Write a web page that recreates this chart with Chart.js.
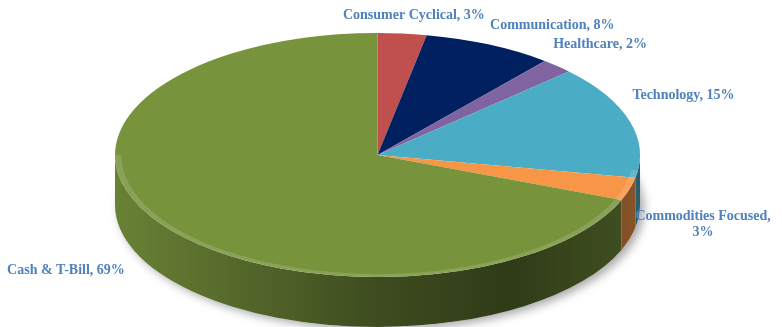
<!DOCTYPE html>
<html>
<head>
<meta charset="utf-8">
<script src="https://cdn.jsdelivr.net/npm/chart.js@4.4.0/dist/chart.umd.min.js"></script>
<style>
  html, body { margin: 0; padding: 0; background: #fff; }
  canvas { display: block; }
</style>
</head>
<body>
<canvas id="myChart" width="782" height="327"></canvas>
<script>
const categories = ['Consumer Cyclical', 'Communication', 'Healthcare', 'Technology', 'Commodities Focused', 'Cash & T-Bill'];
const weights = [3, 8, 2, 15, 3, 69];
const sliceColors = ['#c0504d', '#002060', '#8064a2', '#4bacc6', '#f79646', '#77933c'];

// where the tilted disc sits on the page
const pieBox = { cx: 377.5, cy: 155, rx: 262.5, ry: 122, depth: 50 };
// small hand tweaks of the label spots
const labelNudge = [[8, 0], [-16, -3], [-31, -8], [-35, -20], [-32, 30], [-3, 37]];

function shade(hex, f) {
    const n = parseInt(hex.slice(1), 16);
    const r = Math.round(((n >> 16) & 255) * f);
    const g = Math.round(((n >> 8) & 255) * f);
    const b = Math.round((n & 255) * f);
    return 'rgb(' + r + ',' + g + ',' + b + ')';
}

const tiltPlugin = {
    id: 'tilt',
    beforeDatasetsDraw(chart) {
        const ctx = chart.ctx;
        const arcs = chart.getDatasetMeta(0).data;
        const R = arcs[0].outerRadius, x0 = arcs[0].x, y0 = arcs[0].y;
        const sx = pieBox.rx / R, sy = pieBox.ry / R;
        const dd = pieBox.depth / sy;

        ctx.save();
        ctx.translate(pieBox.cx, pieBox.cy);
        ctx.scale(sx, sy);
        ctx.translate(-x0, -y0);

        // soft shadow behind the side wall
        ctx.save();
        ctx.shadowColor = 'rgba(0,0,0,0.35)';
        ctx.shadowBlur = 10;
        ctx.shadowOffsetX = 4;
        ctx.shadowOffsetY = 3;
        ctx.fillStyle = '#fff';
        ctx.beginPath();
        ctx.arc(x0, y0 + dd, R, 0, Math.PI * 2);
        ctx.fill();
        ctx.restore();

        // side wall of each slice, front half only
        arcs.forEach((arc, i) => {
            const s = Math.max(arc.startAngle, 0);
            const e = Math.min(arc.endAngle, Math.PI);
            if (e <= s) return;
            const grad = ctx.createLinearGradient(x0 - R, 0, x0 + R, 0);
            const c = sliceColors[i];
            grad.addColorStop(0, shade(c, 0.88));
            grad.addColorStop(0.5, shade(c, 0.52));
            grad.addColorStop(0.75, shade(c, 0.4));
            grad.addColorStop(1, shade(c, 0.55));
            ctx.fillStyle = grad;
            ctx.beginPath();
            ctx.arc(x0, y0, R, s, e);
            ctx.arc(x0, y0 + dd, R, e, s, true);
            ctx.closePath();
            ctx.fill();
        });
        chart.$tilt = { x0, y0, R, sy };
    },
    afterDatasetsDraw(chart) {
        const ctx = chart.ctx;
        const t = chart.$tilt;
        // light bevel hugging the front rim
        ctx.strokeStyle = 'rgba(255,255,255,0.14)';
        ctx.lineWidth = 3 / t.sy;
        ctx.beginPath();
        ctx.arc(t.x0, t.y0, t.R - 1.5 / t.sy, 0.04 * Math.PI, 1.0 * Math.PI);
        ctx.stroke();
        ctx.restore();

        // data labels
        const arcs = chart.getDatasetMeta(0).data;
        ctx.save();
        ctx.font = 'bold 14px "Liberation Serif"';
        ctx.fillStyle = '#4f81bd';
        ctx.textBaseline = 'middle';
        arcs.forEach((arc, i) => {
            const mid = (arc.startAngle + arc.endAngle) / 2;
            const c = Math.cos(mid), s = Math.sin(mid);
            let x = pieBox.cx + pieBox.rx * 1.15 * c + labelNudge[i][0];
            const y = pieBox.cy + pieBox.ry * 1.15 * s + labelNudge[i][1];
            const text = categories[i] + ', ' + weights[i] + '%';
            const w = ctx.measureText(text).width;
            if (c > 0.3 && x + w > chart.width - 4) {
                const lines = [categories[i] + ',', weights[i] + '%'];
                const bw = Math.max(...lines.map(l => ctx.measureText(l).width));
                ctx.textAlign = 'center';
                lines.forEach((l, k) => {
                    ctx.fillText(l, x + bw / 2, y + (k - (lines.length - 1) / 2) * 16);
                });
                return;
            }
            ctx.textAlign = c > 0.3 ? 'left' : (c < -0.3 ? 'right' : 'center');
            ctx.fillText(text, x, y);
        });
        ctx.restore();
    }
};

const myChart = new Chart(document.getElementById('myChart'), {
    type: 'pie',
    data: {
        labels: categories,
        datasets: [{
            data: weights,
            backgroundColor: sliceColors,
            borderWidth: 0,
            hoverOffset: 0
        }]
    },
    options: {
        responsive: false,
        animation: false,
        layout: { padding: 0 },
        plugins: {
            legend: { display: false },
            tooltip: { enabled: false }
        }
    },
    plugins: [tiltPlugin]
});
</script>
</body>
</html>
